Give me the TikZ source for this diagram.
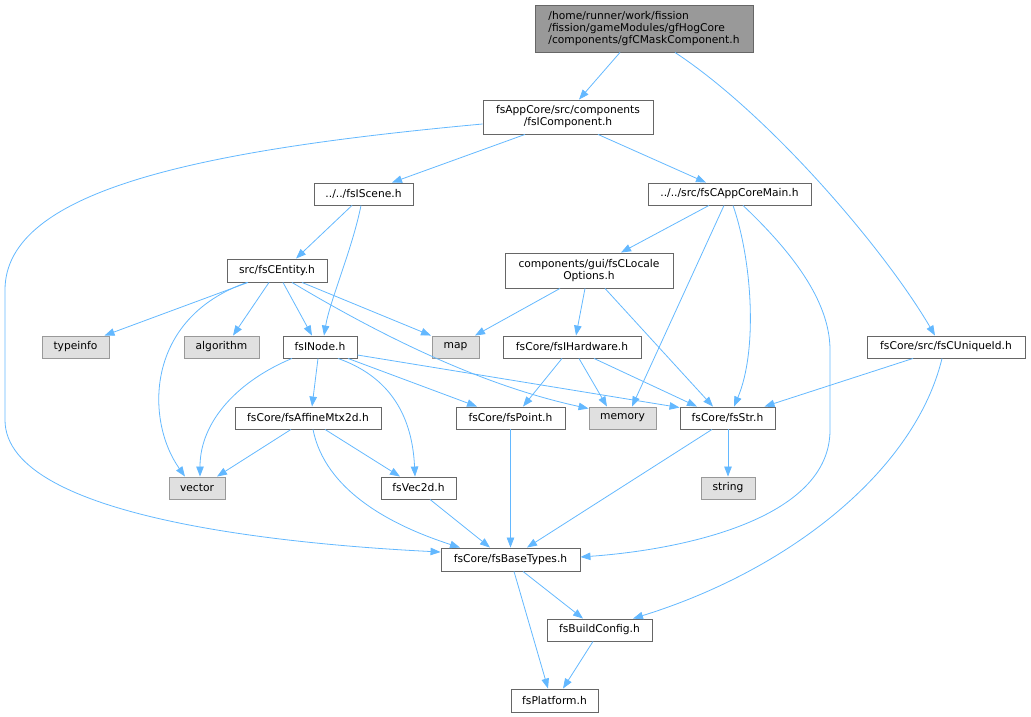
\documentclass[tikz,border=0pt]{standalone}
\usepackage{fontspec}
\setmainfont{DejaVu Sans}
\usetikzlibrary{arrows.meta}
\definecolor{edgec}{HTML}{63B8FF}
\definecolor{bordc}{HTML}{666666}
\definecolor{sysfill}{HTML}{E0E0E0}
\definecolor{sysbord}{HTML}{999999}
\definecolor{rootfill}{HTML}{999999}
\begin{document}
\begin{tikzpicture}[x=1pt,y=-1pt,
  nd/.style={draw=bordc, line width=0.9pt, fill=white, inner sep=0pt,
    font=\fontsize{10.7pt}{12pt}\selectfont, align=center},
  sys/.style={nd, draw=sysbord, fill=sysfill},
  rootnd/.style={nd, fill=rootfill, align=left},
  e/.style={draw=edgec, line width=0.8pt, -{Triangle[length=10pt,width=7.5pt]}}]
\useasboundingbox (0,0) rectangle (1031,717);

% nodes
\node[rootnd, minimum width=218pt, minimum height=47pt] (root) at (644,28.5)
  {/home/runner/work/fission\\/fission/gameModules/gfHogCore\\/components/gfCMaskComponent.h};
\node[nd, minimum width=170pt, minimum height=34pt] (fsIComponent) at (568,117)
  {fsAppCore/src/components\\/fsIComponent.h};
\node[nd, minimum width=99pt, minimum height=22pt] (fsIScene) at (363.5,194) {../../fsIScene.h};
\node[nd, minimum width=163pt, minimum height=22pt] (fsCAppCoreMain) at (729.5,194) {../../src/fsCAppCoreMain.h};
\node[nd, minimum width=100pt, minimum height=23pt] (fsCEntity) at (277,270.5) {src/fsCEntity.h};
\node[nd, minimum width=168pt, minimum height=35pt] (fsCLocale) at (589,270.5) {components/gui/fsCLocale\\Options.h};
\node[sys, minimum width=67pt, minimum height=22pt] (typeinfo) at (75.5,347) {typeinfo};
\node[sys, minimum width=75pt, minimum height=22pt] (algorithm) at (221.5,347) {algorithm};
\node[nd, minimum width=74pt, minimum height=22pt] (fsINode) at (320,347) {fsINode.h};
\node[sys, minimum width=47pt, minimum height=22pt] (map) at (455.5,347) {map};
\node[nd, minimum width=138pt, minimum height=22pt] (fsIHardware) at (572,347) {fsCore/fsIHardware.h};
\node[nd, minimum width=158pt, minimum height=22pt] (fsCUniqueId) at (946,347) {fsCore/src/fsCUniqueId.h};
\node[nd, minimum width=146pt, minimum height=22pt] (fsAffine) at (308,418) {fsCore/fsAffineMtx2d.h};
\node[nd, minimum width=109pt, minimum height=22pt] (fsPoint) at (510.5,418) {fsCore/fsPoint.h};
\node[sys, minimum width=67pt, minimum height=22pt] (memory) at (622.5,418) {memory};
\node[nd, minimum width=95pt, minimum height=22pt] (fsStr) at (727.5,418) {fsCore/fsStr.h};
\node[sys, minimum width=56pt, minimum height=22pt] (vector) at (197,488) {vector};
\node[nd, minimum width=75pt, minimum height=22pt] (fsVec2d) at (418.5,488) {fsVec2d.h};
\node[sys, minimum width=54pt, minimum height=22pt] (string) at (728,488) {string};
\node[nd, minimum width=139pt, minimum height=23pt] (fsBaseTypes) at (510.5,559.5) {fsCore/fsBaseTypes.h};
\node[nd, minimum width=105pt, minimum height=22pt] (fsBuildConfig) at (599.5,630) {fsBuildConfig.h};
\node[nd, minimum width=87pt, minimum height=23pt] (fsPlatform) at (554.5,700.5) {fsPlatform.h};

% edges
\draw[e] ([xshift=-24pt]root.south) -- ([xshift=11pt]fsIComponent.north);
\draw[e] ([xshift=31pt]root.south) .. controls (770,115) and (885,250) .. ([xshift=-11pt]fsCUniqueId.north);
\draw[e] ([xshift=-43pt]fsIComponent.south) -- ([xshift=28.5pt]fsIScene.north);
\draw[e] ([xshift=30pt]fsIComponent.south) -- ([xshift=-23.5pt]fsCAppCoreMain.north);
\draw[e] ([yshift=-7pt]fsIComponent.west) .. controls (200,150) and (5,190) .. (5,290)
   -- (5,420) .. controls (5,520) and (300,545) .. ([yshift=7.5pt]fsBaseTypes.west);
\draw[e] ([xshift=-11.5pt]fsIScene.south) -- ([xshift=19pt]fsCEntity.north);
\draw[e] ([xshift=-2.5pt]fsIScene.south) .. controls (352,250) and (330,300) .. ([xshift=4pt]fsINode.north);
\draw[e] ([xshift=-20.5pt]fsCAppCoreMain.south) -- ([xshift=32pt]fsCLocale.north);
\draw[e] ([xshift=-5.5pt]fsCAppCoreMain.south) -- ([xshift=9.5pt]memory.north);
\draw[e] ([xshift=3.5pt]fsCAppCoreMain.south) .. controls (752,260) and (758,350) .. ([xshift=6.5pt]fsStr.north);
\draw[e] ([xshift=13.5pt]fsCAppCoreMain.south) .. controls (790,250) and (830,300) .. (830,350)
   -- (830,430) .. controls (830,520) and (680,550) .. ([yshift=2.5pt]fsBaseTypes.east);
\draw[e] ([xshift=-29pt]fsCLocale.south) -- ([xshift=19.5pt]map.north);
\draw[e] ([xshift=-4pt]fsCLocale.south) -- ([xshift=4pt]fsIHardware.north);
\draw[e] ([xshift=16pt]fsCLocale.south) -- ([xshift=-14.5pt]fsStr.north);
\draw[e] ([xshift=-29pt]fsCEntity.south) -- ([xshift=29pt]typeinfo.north);
\draw[e] ([xshift=-30pt]fsCEntity.south) .. controls (145,318) and (145,420) .. ([xshift=-12pt]vector.north);
\draw[e] ([xshift=-8pt]fsCEntity.south) -- ([xshift=11.5pt]algorithm.north);
\draw[e] ([xshift=6pt]fsCEntity.south) -- ([xshift=-8pt]fsINode.north);
\draw[e] ([xshift=25pt]fsCEntity.south) -- ([xshift=-24.5pt]map.north);
\draw[e] ([xshift=15pt]fsCEntity.south) .. controls (380,335) and (480,385) .. ([yshift=-2pt]memory.north west);
\draw[e] ([xshift=-28pt]fsINode.south) .. controls (240,380) and (200,420) .. ([xshift=3pt]vector.north);
\draw[e] ([xshift=-2pt]fsINode.south) -- ([xshift=4pt]fsAffine.north);
\draw[e] ([xshift=18pt]fsINode.south) .. controls (385,375) and (412,410) .. ([xshift=-3.5pt]fsVec2d.north);
\draw[e] ([xshift=28pt]fsINode.south) -- ([xshift=-33.5pt]fsPoint.north);
\draw[e] ([yshift=-8pt]fsINode.east) -- ([yshift=-1pt]fsStr.north west);
\draw[e] ([xshift=-10pt]fsIHardware.south) -- ([xshift=12.5pt]fsPoint.north);
\draw[e] ([xshift=7pt]fsIHardware.south) -- ([xshift=-15.5pt]memory.north);
\draw[e] ([xshift=22pt]fsIHardware.south) -- ([xshift=-30.5pt]fsStr.north);
\draw[e] ([xshift=-33pt]fsCUniqueId.south) -- ([xshift=37pt]fsStr.north);
\draw[e] ([xshift=-4pt]fsCUniqueId.south) .. controls (915,470) and (790,570) .. ([xshift=33.5pt]fsBuildConfig.north);
\draw[e] ([xshift=0.5pt]fsStr.south) -- (string.north);
\draw[e] ([xshift=-15.5pt]fsStr.south) -- ([xshift=16.5pt]fsBaseTypes.north);
\draw[e] (fsPoint.south) -- (fsBaseTypes.north);
\draw[e] ([xshift=-17pt]fsAffine.south) -- ([xshift=20pt]vector.north);
\draw[e] ([xshift=17pt]fsAffine.south) -- ([xshift=-18.5pt]fsVec2d.north);
\draw[e] ([xshift=5pt]fsAffine.south) .. controls (325,490) and (390,525) .. ([xshift=-50.5pt]fsBaseTypes.north);
\draw[e] ([xshift=11.5pt]fsVec2d.south) -- ([xshift=-20.5pt]fsBaseTypes.north);
\draw[e] ([xshift=12.5pt]fsBaseTypes.south) -- ([xshift=-16.5pt]fsBuildConfig.north);
\draw[e] ([xshift=3.5pt]fsBaseTypes.south) -- ([xshift=-6.5pt]fsPlatform.north);
\draw[e] ([xshift=-6.5pt]fsBuildConfig.south) -- ([xshift=8.5pt]fsPlatform.north);
\end{tikzpicture}
\end{document}
